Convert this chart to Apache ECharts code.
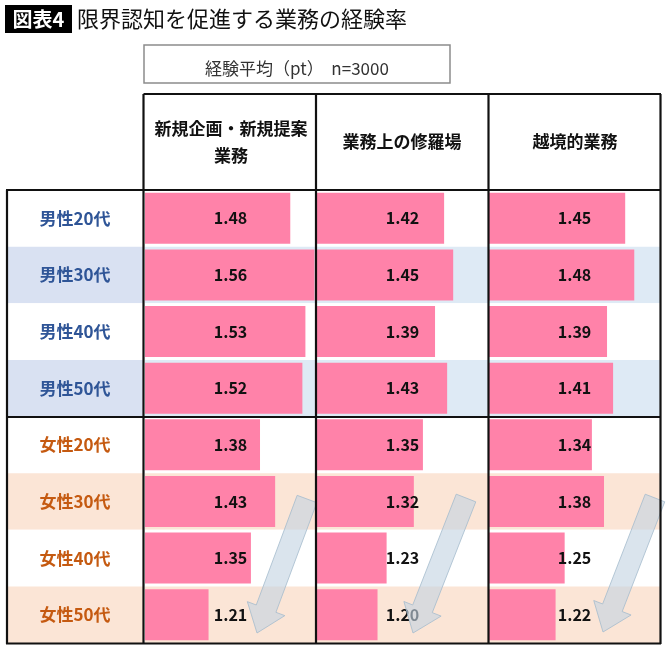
<!DOCTYPE html>
<html><head><meta charset="utf-8">
<script src="https://cdn.jsdelivr.net/npm/echarts@6/dist/echarts.min.js"></script>
<style>html,body{margin:0;padding:0;background:#fff}#c{width:670px;height:650px}</style>
</head><body><div id="c"></div>
<script>
// ---- data ----
const badgeText = '図表4';
const titleText = '限界認知を促進する業務の経験率';
const subtitleText = '経験平均（pt）  n=3000';
const groups = ['男性20代','男性30代','男性40代','男性50代','女性20代','女性30代','女性40代','女性50代'];
const columns = ['新規企画・新規提案\n業務','業務上の修羅場','越境的業務'];
const planning = [1.48,1.56,1.53,1.52,1.38,1.43,1.35,1.21];
const shuraba  = [1.42,1.45,1.39,1.43,1.35,1.32,1.23,1.20];
const ekkyo    = [1.45,1.48,1.39,1.41,1.34,1.38,1.25,1.22];
const seriesValues = [planning, shuraba, ekkyo];
const axisMin = 1.0, axisMax = 1.565;

// ---- layout/style ----
const FONT = '"Noto Sans CJK JP","Noto Sans",sans-serif';
const TOP = 190, H = 453;
const colLeft = [145, 317, 489], colW = 171;
const PINK = '#ff82a9';
const labelBands = ['#ffffff','#d9e1f2','#ffffff','#d9e1f2','#ffffff','#fbe5d6','#ffffff','#fbe5d6'];
const dataBands  = ['#ffffff','#deeaf5','#ffffff','#deeaf5','#ffffff','#fbe5d6','#ffffff','#fbe5d6'];

const chart = echarts.init(document.getElementById('c'));

const grids = [{left: 8, top: TOP, width: 135, height: H}];
const xAxes = [{gridIndex: 0, type: 'value', min: 0, max: 1, show: false}];
const yAxes = [{
  gridIndex: 0, type: 'category', data: groups, inverse: true, position: 'right',
  axisLine: {show: false}, axisTick: {show: false},
  axisLabel: {inside: true, margin: 68, align: 'center', fontFamily: FONT, fontSize: 17, fontWeight: 'bold',
    color: (v, i) => (v.indexOf('男') === 0 ? '#2f5597' : '#c55a11')},
  splitArea: {show: true, interval: 0, areaStyle: {color: labelBands}}
}];
const series = [];
columns.forEach((c, k) => {
  grids.push({left: colLeft[k], top: TOP, width: colW, height: H});
  xAxes.push({gridIndex: k + 1, type: 'value', min: axisMin, max: axisMax, show: false});
  yAxes.push({gridIndex: k + 1, type: 'category', data: groups, inverse: true,
    axisLine: {show: false}, axisTick: {show: false}, axisLabel: {show: false},
    splitArea: {show: true, interval: 0, areaStyle: {color: dataBands}}});
  series.push({type: 'bar', xAxisIndex: k + 1, yAxisIndex: k + 1, data: seriesValues[k],
    barWidth: 51, itemStyle: {color: PINK}, z: 2, silent: true});
  series.push({type: 'bar', xAxisIndex: k + 1, yAxisIndex: k + 1, data: seriesValues[k].map(() => axisMax),
    barWidth: 51, barGap: '-100%', itemStyle: {color: 'rgba(0,0,0,0)'}, z: 3, silent: true,
    label: {show: true, position: 'inside', fontFamily: FONT, fontSize: 16, fontWeight: 'bold', color: '#111',
      formatter: p => seriesValues[k][p.dataIndex].toFixed(2)}});
});

// decorations
const graphic = [];
graphic.push({type: 'rect', shape: {x: 5, y: 5, width: 67, height: 28}, style: {fill: '#000'}, z: 100});
graphic.push({type: 'text', x: 38.5, y: 19, style: {text: badgeText, fill: '#fff', font: 'bold 20px ' + FONT, align: 'center', verticalAlign: 'middle'}, z: 101});
graphic.push({type: 'text', x: 77, y: 19, style: {text: titleText, fill: '#111', font: '22px ' + FONT, align: 'left', verticalAlign: 'middle'}, z: 101});
graphic.push({type: 'rect', shape: {x: 144, y: 45, width: 306, height: 38}, style: {fill: 'none', stroke: '#8c8c8c', lineWidth: 1.5}, z: 100});
graphic.push({type: 'text', x: 297, y: 69, style: {text: subtitleText, fill: '#333', font: '17px ' + FONT, align: 'center', verticalAlign: 'middle'}, z: 101});
const colCenters = [231, 402, 575];
columns.forEach((c, k) => {
  graphic.push({type: 'text', x: colCenters[k], y: 142, style: {text: c, fill: '#111', font: 'bold 17px ' + FONT, lineHeight: 27, align: 'center', verticalAlign: 'middle'}, z: 101});
});
const L = (x1, y1, x2, y2) => graphic.push({type: 'line', shape: {x1, y1, x2, y2}, style: {stroke: '#111', lineWidth: 2.2}, z: 110});
L(143.5, 94, 661, 94);
L(6, 190, 661, 190);
L(6, 417, 661, 417);
L(6, 643.5, 661, 643.5);
L(7, 190, 7, 644);
[143.5, 316, 488.5, 660.5].forEach(x => L(x, 94, x, 644));

function arrow(top, tip, sw, hw, hl) {
  const dx = tip[0] - top[0], dy = tip[1] - top[1], len = Math.hypot(dx, dy);
  const ux = dx / len, uy = dy / len, nx = -uy, ny = ux;
  const b = [tip[0] - ux * hl, tip[1] - uy * hl];
  return [[top[0] + nx * sw, top[1] + ny * sw], [b[0] + nx * sw, b[1] + ny * sw], [b[0] + nx * hw, b[1] + ny * hw], tip,
          [b[0] - nx * hw, b[1] - ny * hw], [b[0] - nx * sw, b[1] - ny * sw], [top[0] - nx * sw, top[1] - ny * sw]];
}
[[[307, 499], [257, 633]], [[466, 498], [413, 633]], [[655, 498], [603, 632]]].forEach(a => {
  graphic.push({type: 'polygon', shape: {points: arrow(a[0], a[1], 10.5, 20, 26)},
    style: {fill: 'rgba(195,212,226,0.62)', stroke: 'rgba(165,188,205,0.8)', lineWidth: 1}, z: 105});
});

chart.setOption({
  animation: false,
  backgroundColor: '#fff',
  grid: grids, xAxis: xAxes, yAxis: yAxes, series: series, graphic: graphic
});
</script></body></html>
